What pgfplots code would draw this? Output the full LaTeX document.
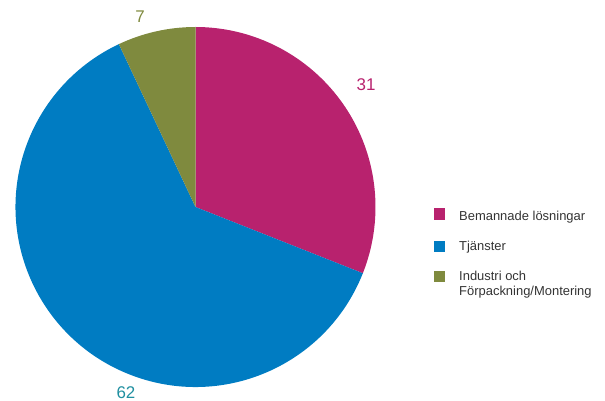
\documentclass[border=0pt]{standalone}
\usepackage{pgfplots}
\usepackage{pgfplotstable}
\pgfplotsset{compat=1.18}
\usepackage{fontspec}
\setmainfont{Liberation Sans}

\definecolor{cmag}{HTML}{B8226E}
\definecolor{cblue}{HTML}{007CC2}
\definecolor{colive}{HTML}{7F8A3E}
\definecolor{cteal}{HTML}{1F8FA0}
\definecolor{ctext}{HTML}{333333}

% share per segment (percent)
\pgfplotstableread{
value
31
62
7
}\piedata

\begin{document}
\begin{tikzpicture}
\pgfplotstablegetelem{0}{value}\of\piedata \let\vA\pgfplotsretval
\pgfplotstablegetelem{1}{value}\of\piedata \let\vB\pgfplotsretval
\pgfplotstablegetelem{2}{value}\of\piedata \let\vC\pgfplotsretval
\pgfmathsetmacro\aO{90}
\pgfmathsetmacro\aA{90-3.6*\vA}
\pgfmathsetmacro\aB{\aA-3.6*\vB}
\pgfmathsetmacro\aC{\aB-3.6*\vC}
\begin{axis}[
    at={(0,0)}, anchor=south west,
    scale only axis,
    width=605bp, height=401bp,
    xmin=0, xmax=605, ymin=0, ymax=401,
    hide axis,
    clip=false,
]
\fill[cmag] (axis cs:195.5,194) -- ++(\aO:180bp) arc[start angle=\aO, end angle=\aA, radius=180bp] -- cycle;
\fill[cblue] (axis cs:195.5,194) -- ++(\aA:180bp) arc[start angle=\aA, end angle=\aB, radius=180bp] -- cycle;
\fill[colive] (axis cs:195.5,194) -- ++(\aB:180bp) arc[start angle=\aB, end angle=\aC, radius=180bp] -- cycle;

\node[text=cmag, font=\fontsize{17}{20}\selectfont] at (axis cs:366,316) {\vA};
\node[text=cteal, font=\fontsize{17}{20}\selectfont] at (axis cs:126,8) {\vB};
\node[text=colive, font=\fontsize{17}{20}\selectfont] at (axis cs:140,384) {\vC};

% legend
\fill[cmag] (axis cs:434,181) rectangle (axis cs:445,193);
\fill[cblue] (axis cs:434,149) rectangle (axis cs:445,160);
\fill[colive] (axis cs:434,119) rectangle (axis cs:445,130);
\node[anchor=base west, inner sep=0pt, text=ctext, font=\fontsize{13}{15}\selectfont] at (axis cs:459,180) {Bemannade lösningar};
\node[anchor=base west, inner sep=0pt, text=ctext, font=\fontsize{13}{15}\selectfont] at (axis cs:459,150) {Tjänster};
\node[anchor=base west, inner sep=0pt, text=ctext, font=\fontsize{13}{15}\selectfont] at (axis cs:459,120) {Industri och};
\node[anchor=base west, inner sep=0pt, text=ctext, font=\fontsize{13}{15}\selectfont] at (axis cs:459,105) {Förpackning/Montering};
\end{axis}
\pgfresetboundingbox
\useasboundingbox (0,0) rectangle (605bp,401bp);
\end{tikzpicture}
\end{document}
